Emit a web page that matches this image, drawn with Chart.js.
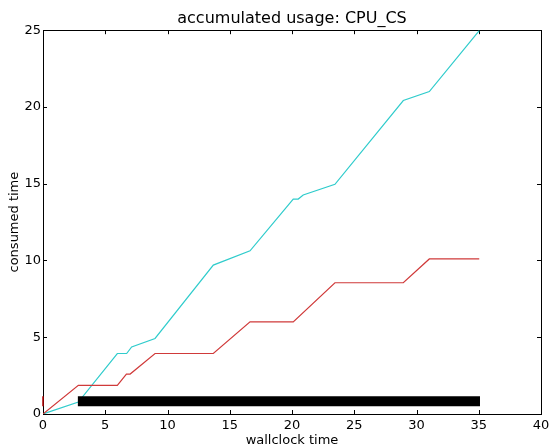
<!DOCTYPE html>
<html>
<head>
<meta charset="utf-8">
<script src="https://cdn.jsdelivr.net/npm/chart.js@4"></script>
<style>
  html, body { margin: 0; padding: 0; background: #fff; }
  #wrap { width: 551px; height: 447px; }
</style>
</head>
<body>
<div id="wrap"><canvas id="usageChart" width="551" height="447"></canvas></div>
<script>
// wallclock / consumed time for each series
const cyanX = [0, 2.84, 5.97, 6.72, 7.12, 9.0, 13.68, 16.63, 20.1, 20.5, 20.9, 23.45, 28.94, 31.03, 35.04];
const cyanY = [0, 0.78, 3.94, 3.94, 4.37, 4.92, 9.70, 10.63, 14.0, 14.0, 14.27, 14.96, 20.42, 21.0, 24.98];
const redX = [0, 2.84, 5.97, 6.7, 7.0, 9.0, 13.68, 16.63, 20.1, 23.45, 28.94, 31.03, 35.04];
const redY = [0, 1.87, 1.87, 2.6, 2.6, 3.94, 3.94, 6.0, 6.0, 8.55, 8.55, 10.1, 10.1];
// black bar span and small red marker at start
const barX = [2.8, 35.1];
const barY = [0.83, 0.83];
const markX = [0, 0];
const markY = [0.5, 1.15];

const xTicks = [0, 5, 10, 15, 20, 25, 30, 35, 40];
const yTicks = [0, 5, 10, 15, 20, 25];

const toPoints = function (xs, ys) {
  return xs.map((x, i) => ({ x: x, y: ys[i] }));
};

const FONT = "'DejaVu Sans', sans-serif";

// matplotlib-like frame with inward ticks on all four sides
const framePlugin = {
  id: "frame",
  beforeDatasetsDraw(chart) {
    const ctx = chart.ctx;
    const a = chart.chartArea;
    const xs = chart.scales.x;
    const ys = chart.scales.y;
    ctx.save();
    ctx.strokeStyle = "#000";
    ctx.lineWidth = 1;
    ctx.strokeRect(Math.round(a.left) + 0.5, Math.round(a.top) + 0.5,
      Math.round(a.right - a.left), Math.round(a.bottom - a.top));
    ctx.beginPath();
    xTicks.forEach((v) => {
      const px = Math.round(xs.getPixelForValue(v)) + 0.5;
      ctx.moveTo(px, a.bottom);
      ctx.lineTo(px, a.bottom - 4);
      ctx.moveTo(px, a.top);
      ctx.lineTo(px, a.top + 4);
    });
    yTicks.forEach((v) => {
      const py = Math.round(ys.getPixelForValue(v)) + 0.5;
      ctx.moveTo(a.left, py);
      ctx.lineTo(a.left + 4, py);
      ctx.moveTo(a.right, py);
      ctx.lineTo(a.right - 4, py);
    });
    ctx.stroke();
    ctx.restore();
  },
};

const ctx = document.getElementById("usageChart").getContext("2d");
const usageChart = new Chart(ctx, {
  type: "line",
  data: {
    datasets: [
      {
        data: toPoints(barX, barY),
        borderColor: "#000",
        borderWidth: 10,
        borderCapStyle: "butt",
        pointRadius: 0,
      },
      {
        data: toPoints(markX, markY),
        borderColor: "#b00000",
        borderWidth: 1.5,
        borderCapStyle: "butt",
        pointRadius: 0,
        clip: false,
      },
      {
        data: toPoints(redX, redY),
        borderColor: "#d03a3a",
        borderWidth: 1.2,
        pointRadius: 0,
        tension: 0,
      },
      {
        data: toPoints(cyanX, cyanY),
        borderColor: "#30cccc",
        borderWidth: 1.2,
        pointRadius: 0,
        tension: 0,
      },
    ],
  },
  options: {
    responsive: false,
    animation: false,
    layout: { padding: { right: 10, top: 0, left: 0, bottom: 0 } },
    plugins: {
      legend: { display: false },
      tooltip: { enabled: false },
      title: {
        display: true,
        fullSize: false,
        text: "accumulated usage: CPU_CS",
        color: "#000",
        font: { family: FONT, size: 16, weight: "normal" },
        padding: { top: 9, bottom: 2 },
      },
    },
    scales: {
      x: {
        type: "linear",
        min: 0,
        max: 40,
        afterFit(scale) {
          scale.height = 33;
          scale.paddingLeft = 0;
          scale.paddingRight = 0;
        },
        afterBuildTicks(scale) { scale.ticks = xTicks.map((v) => ({ value: v })); },
        grid: { display: false, drawTicks: false },
        border: { display: false },
        ticks: {
          color: "#000",
          padding: 4,
          maxRotation: 0,
          font: { family: FONT, size: 13 },
        },
        title: {
          display: true,
          text: "wallclock time",
          color: "#000",
          padding: { top: 0, bottom: 0 },
          font: { family: FONT, size: 13, lineHeight: 1 },
        },
      },
      y: {
        type: "linear",
        min: 0,
        max: 25,
        afterFit(scale) {
          scale.width = 43;
          scale.paddingTop = 0;
          scale.paddingBottom = 0;
        },
        afterBuildTicks(scale) { scale.ticks = yTicks.map((v) => ({ value: v })); },
        grid: { display: false, drawTicks: false },
        border: { display: false },
        ticks: {
          color: "#000",
          padding: 2,
          font: { family: FONT, size: 13 },
        },
        title: {
          display: true,
          text: "consumed time",
          color: "#000",
          padding: { top: 7, bottom: 0 },
          font: { family: FONT, size: 13 },
        },
      },
    },
  },
  plugins: [framePlugin],
});
</script>
</body>
</html>
